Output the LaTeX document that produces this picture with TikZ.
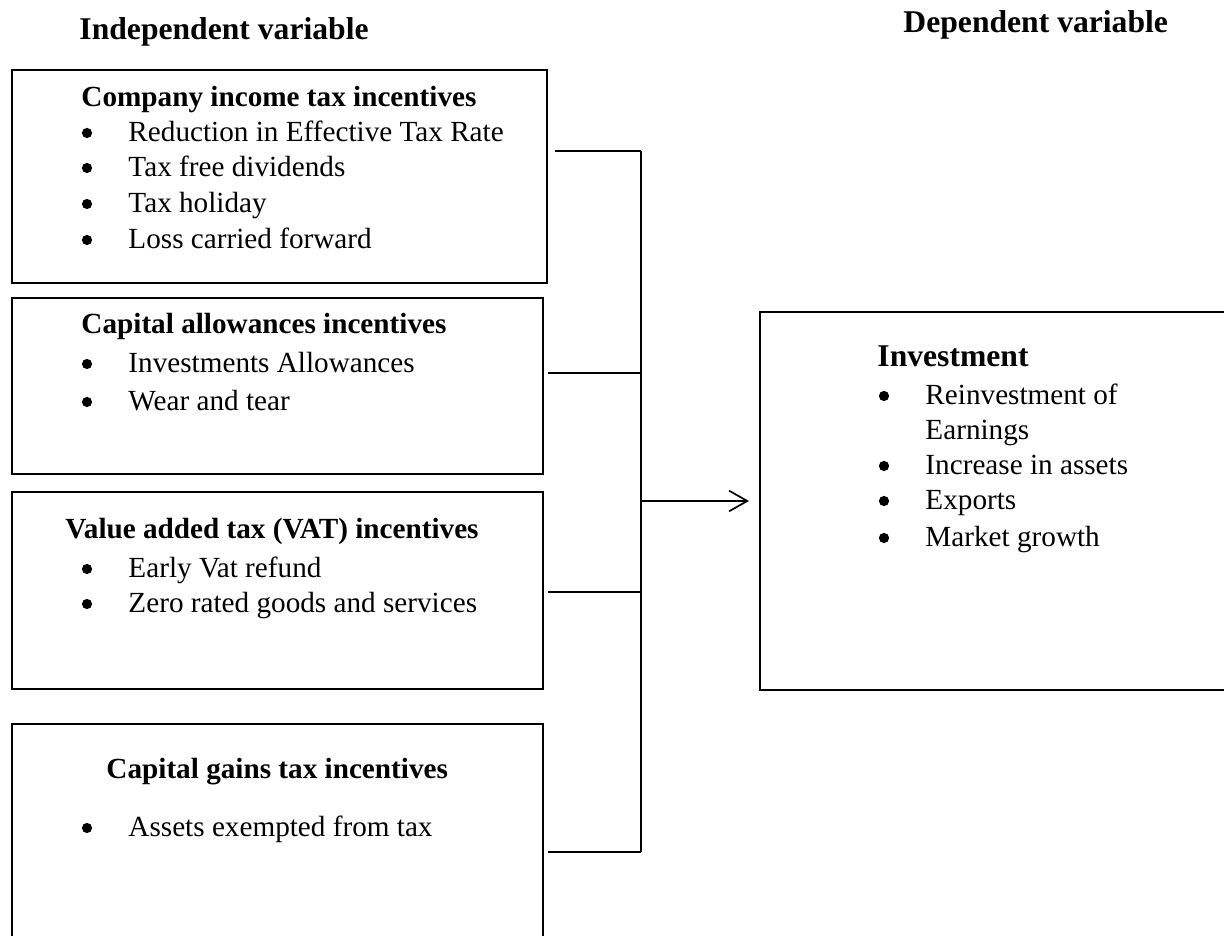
\documentclass[tikz,border=0pt]{standalone}
\usepackage{fontspec}
\setmainfont{Liberation Serif}
\usetikzlibrary{calc,arrows.meta}
\newcommand\px{0.411pt}
\tikzset{
  varbox/.style={draw, line width=0.9pt, anchor=north west, inner sep=0pt},
  headtext/.style={anchor=base west, inner sep=0pt, font=\fontsize{13}{15}\selectfont\bfseries},
  boxhead/.style={anchor=base west, inner sep=0pt, font=\fontsize{12}{14}\selectfont\bfseries},
  itemtext/.style={anchor=base west, inner sep=0pt, font=\fontsize{12}{14}\selectfont},
  bulletdot/.style={circle, fill, inner sep=0pt, minimum size=4.2pt},
  linkline/.style={line width=0.45pt},
  arrowline/.style={line width=0.7pt, -{Straight Barb[length=7.5pt, width=8.5pt]}}
}
\begin{document}
\begin{tikzpicture}[x=\px, y=-\px]
\useasboundingbox (0,0) rectangle (1224,936);
\clip (0,0) rectangle (1224,936);
% boxes
\foreach \k/\x/\y/\w/\h in {1/11/69/535/213, 2/11/297/531/176, 3/11/491/531/197, 4/11/723/531/240, 5/759/311/500/378}
    \node[varbox, minimum width=\w*\px, minimum height=\h*\px] (B\k) at (\x,\y) {};
% headings
\node[headtext] (H1) at (79,40) {Independent variable};
\node[headtext] (H2) at (903,33) {Dependent variable};
\node[headtext] (H3) at (877,367) {Investment};
\foreach \k/\x/\y/\t in {1/81/107/Company income tax incentives, 2/81/334/Capital allowances incentives, 3/65/539/Value added tax (VAT) incentives, 4/106/779/Capital gains tax incentives}
    \node[boxhead] (T\k) at (\x,\y) {\t};
% bullet lines
\foreach \k/\x/\y/\t in {1/128/142/Reduction in Effective Tax Rate, 2/128/177/Tax free dividends, 3/128/213/Tax holiday, 4/128/249/Loss carried forward, 5/128/373/Investments Allowances, 6/128/411/Wear and tear, 7/128/578/Early Vat refund, 8/128/613/Zero rated goods and services, 9/128/837/Assets exempted from tax, 10/925/405/Reinvestment of, 11/925/475/Increase in assets, 12/925/510/Exports, 13/925/547/Market growth} {
    \node[bulletdot] (D\k) at (\x-41,\y-9) {};
    \node[itemtext] (L\k) at (\x,\y) {\t};
}
\node[itemtext] (L14) at (925,440) {Earnings};
% connectors
\foreach \k/\y/\d in {1/151/7, 2/373/4, 3/592/4, 4/852/4} {
    \coordinate (J\k) at (641,\y);
    \draw[linkline] ($(B\k.east |- J\k)+(\d,0)$) -- (J\k);
}
\draw[linkline] (J1) -- (J4);
\coordinate (J5) at (641,501);
\draw[arrowline] (J5) -- ($(B5.west |- J5)+(-10,0)$);
\end{tikzpicture}
\end{document}
